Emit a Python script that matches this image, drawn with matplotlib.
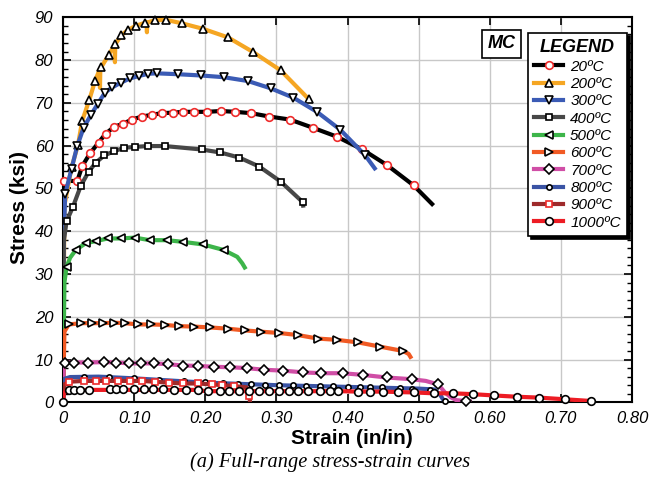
import matplotlib
matplotlib.use('Agg')
import matplotlib.pyplot as plt
from matplotlib.lines import Line2D
from matplotlib.ticker import MultipleLocator

plt.rcParams['font.family'] = ['Liberation Sans', 'DejaVu Sans']

# ---------------- data (strain in/in, stress ksi) ----------------
labels = ['20ºC', '200ºC', '300ºC', '400ºC', '500ºC', '600ºC', '700ºC', '800ºC', '900ºC', '1000ºC']
x_ticks = [0, 0.1, 0.2, 0.3, 0.4, 0.5, 0.6, 0.7, 0.8]
x_tick_labels = ['0', '0.10', '0.20', '0.30', '0.40', '0.50', '0.60', '0.70', '0.80']
y_ticks = [0, 10, 20, 30, 40, 50, 60, 70, 80, 90]

# 20 C
line_x_20 = [0, 0.001, 0.002, 0.02, 0.027, 0.038, 0.05, 0.06, 0.072, 0.084, 0.097, 0.111, 0.125, 0.139, 0.154, 0.169,
             0.184, 0.203, 0.222, 0.242, 0.264, 0.29, 0.319, 0.351, 0.385, 0.421, 0.456, 0.493, 0.521]
line_y_20 = [0, 48, 51.8, 51.7, 55.2, 58.2, 60.7, 62.8, 64.4, 65.1, 66.1, 66.8, 67.2, 67.6, 67.7, 67.9,
             67.9, 67.9, 68.1, 67.9, 67.6, 66.8, 66.1, 64.2, 62.1, 59.1, 55.4, 50.7, 46.0]
mk_x_20 = [0.002, 0.02, 0.027, 0.038, 0.05, 0.06, 0.072, 0.084, 0.097, 0.111, 0.125, 0.139, 0.154, 0.169,
           0.184, 0.203, 0.222, 0.242, 0.264, 0.29, 0.319, 0.351, 0.385, 0.421, 0.456, 0.493]
mk_y_20 = [51.8, 51.7, 55.2, 58.2, 60.7, 62.8, 64.4, 65.1, 66.1, 66.8, 67.2, 67.6, 67.7, 67.9,
           67.9, 67.9, 68.1, 67.9, 67.6, 66.8, 66.1, 64.2, 62.1, 59.1, 55.4, 50.7]

# 200 C
line_x_200 = [0, 0.002, 0.012, 0.021, 0.027, 0.037, 0.045, 0.0515, 0.052, 0.0525, 0.054, 0.064, 0.0725, 0.073,
              0.0735, 0.082, 0.091, 0.102, 0.115, 0.1175, 0.118, 0.1185, 0.129, 0.145, 0.167, 0.197, 0.232,
              0.267, 0.306, 0.346, 0.348]
line_y_200 = [0, 46, 54.9, 60.1, 65.8, 70.7, 75.1, 77.8, 73.5, 78.0, 78.4, 81.1, 83.6, 79.5,
              83.7, 85.8, 87.0, 88.0, 88.7, 88.8, 86.5, 88.8, 89.3, 89.4, 88.6, 87.3, 85.3,
              81.9, 77.6, 70.8, 70.3]
mk_x_200 = [0.012, 0.021, 0.027, 0.037, 0.045, 0.054, 0.064, 0.073, 0.082, 0.091, 0.102, 0.115, 0.129, 0.145,
            0.167, 0.197, 0.232, 0.267, 0.306, 0.346]
mk_y_200 = [54.9, 60.1, 65.8, 70.7, 75.1, 78.4, 81.1, 83.8, 85.8, 87.0, 88.0, 88.7, 89.3, 89.4,
            88.6, 87.3, 85.3, 81.9, 77.6, 70.8]

# 300 C
line_x_300 = [0, 0.001, 0.003, 0.012, 0.02, 0.029, 0.039, 0.049, 0.059, 0.069, 0.081, 0.094, 0.107, 0.12, 0.132,
              0.161, 0.194, 0.226, 0.26, 0.292, 0.324, 0.357, 0.39, 0.425, 0.44]
line_y_300 = [0, 37, 48.6, 54.6, 59.9, 64.2, 67.1, 69.8, 72.4, 73.6, 74.7, 75.7, 76.3, 76.8, 76.9,
              76.7, 76.4, 76.0, 75.1, 73.4, 71.2, 67.9, 63.7, 57.7, 54.3]
mk_x_300 = [0.003, 0.012, 0.02, 0.029, 0.039, 0.049, 0.059, 0.069, 0.081, 0.094, 0.107, 0.12, 0.132,
            0.161, 0.194, 0.226, 0.26, 0.292, 0.324, 0.357, 0.39, 0.425]
mk_y_300 = [48.6, 54.6, 59.9, 64.2, 67.1, 69.8, 72.4, 73.6, 74.7, 75.7, 76.3, 76.8, 76.9,
            76.7, 76.4, 76.0, 75.1, 73.4, 71.2, 67.9, 63.7, 57.7]

# 400 C
line_x_400 = [0, 0.001, 0.005, 0.014, 0.025, 0.036, 0.046, 0.058, 0.072, 0.086, 0.101, 0.119, 0.143, 0.195,
              0.221, 0.248, 0.276, 0.306, 0.337, 0.338]
line_y_400 = [0, 37.5, 42.3, 45.7, 50.6, 53.9, 56.0, 57.7, 58.7, 59.5, 59.7, 59.9, 59.9, 59.1,
              58.4, 57.2, 55.1, 51.6, 46.8, 45.5]
mk_x_400 = [0.005, 0.014, 0.025, 0.036, 0.046, 0.058, 0.072, 0.086, 0.101, 0.119, 0.143, 0.195,
            0.221, 0.248, 0.276, 0.306, 0.337]
mk_y_400 = [42.3, 45.7, 50.6, 53.9, 56.0, 57.7, 58.7, 59.5, 59.7, 59.9, 59.9, 59.1,
            58.4, 57.2, 55.1, 51.6, 46.8]

# 500 C
line_x_500 = [0, 0.002, 0.005, 0.01, 0.018, 0.032, 0.047, 0.063, 0.081, 0.101, 0.122, 0.146, 0.169, 0.197,
              0.226, 0.245, 0.252, 0.257]
line_y_500 = [0, 28, 31.6, 33.8, 35.6, 37.2, 37.7, 38.3, 38.3, 38.5, 37.9, 37.9, 37.5, 36.9,
              35.6, 34.0, 32.5, 31.1]
mk_x_500 = [0.005, 0.018, 0.032, 0.047, 0.063, 0.081, 0.101, 0.122, 0.146, 0.169, 0.197, 0.226]
mk_y_500 = [31.6, 35.6, 37.2, 37.7, 38.3, 38.3, 38.5, 37.9, 37.9, 37.5, 36.9, 35.6]

# 600 C
line_x_600 = [0, 0.002, 0.008, 0.026, 0.041, 0.056, 0.072, 0.087, 0.106, 0.124, 0.143, 0.163, 0.184, 0.207,
              0.232, 0.256, 0.279, 0.304, 0.331, 0.358, 0.385, 0.415, 0.446, 0.478, 0.486, 0.49]
line_y_600 = [0, 16.5, 18.2, 18.5, 18.5, 18.5, 18.6, 18.5, 18.2, 18.2, 18.1, 17.8, 17.7, 17.5,
              17.2, 16.8, 16.5, 16.2, 15.7, 14.9, 14.6, 14.0, 13.0, 12.0, 11.3, 10.2]
mk_x_600 = [0.008, 0.026, 0.041, 0.056, 0.072, 0.087, 0.106, 0.124, 0.143, 0.163, 0.184, 0.207,
            0.232, 0.256, 0.279, 0.304, 0.331, 0.358, 0.385, 0.415, 0.446, 0.478]
mk_y_600 = [18.2, 18.5, 18.5, 18.5, 18.6, 18.5, 18.2, 18.2, 18.1, 17.8, 17.7, 17.5,
            17.2, 16.8, 16.5, 16.2, 15.7, 14.9, 14.6, 14.0, 13.0, 12.0]

# 700 C
line_x_700 = [0, 0.001, 0.003, 0.015, 0.035, 0.057, 0.075, 0.093, 0.11, 0.128, 0.148, 0.169, 0.19, 0.212,
              0.235, 0.258, 0.283, 0.31, 0.337, 0.363, 0.393, 0.422, 0.455, 0.49, 0.51, 0.527, 0.532,
              0.537, 0.545, 0.553, 0.567, 0.575]
line_y_700 = [0, 8.5, 9.3, 9.3, 9.3, 9.4, 9.3, 9.1, 9.1, 9.1, 8.9, 8.6, 8.5, 8.3,
              8.2, 8.0, 7.6, 7.4, 7.0, 6.8, 6.8, 6.4, 5.8, 5.4, 5.0, 4.2, 3.3,
              2.3, 1.2, 0.5, 0.3, 0.2]
mk_x_700 = [0.003, 0.015, 0.035, 0.057, 0.075, 0.093, 0.11, 0.128, 0.148, 0.169, 0.19, 0.212,
            0.235, 0.258, 0.283, 0.31, 0.337, 0.363, 0.393, 0.422, 0.455, 0.49, 0.527, 0.567]
mk_y_700 = [9.3, 9.3, 9.3, 9.4, 9.3, 9.1, 9.1, 9.1, 8.9, 8.6, 8.5, 8.3,
            8.2, 8.0, 7.6, 7.4, 7.0, 6.8, 6.8, 6.4, 5.8, 5.4, 4.2, 0.3]

# 800 C
line_x_800 = [0, 0.002, 0.01, 0.05, 0.1, 0.2, 0.3, 0.4, 0.5, 0.522, 0.53, 0.535, 0.539]
line_y_800 = [0, 5.5, 5.9, 6.0, 5.6, 4.6, 4.0, 3.6, 3.2, 3.0, 1.8, 0.5, 0.1]
mk_x_800 = [0.03, 0.065, 0.1, 0.135, 0.17, 0.2, 0.225, 0.246, 0.265, 0.284, 0.304, 0.323, 0.342, 0.362,
            0.38, 0.4, 0.417, 0.432, 0.448, 0.474, 0.49, 0.516, 0.537]
mk_y_800 = [6.0, 5.8, 5.6, 5.3, 5.0, 4.7, 4.5, 4.3, 4.3, 4.0, 4.0, 4.0, 3.9, 3.8,
            3.8, 3.6, 3.5, 3.5, 3.5, 3.3, 3.1, 2.9, 0.4]

# 900 C
line_x_900 = [0, 0.002, 0.008, 0.029, 0.046, 0.061, 0.077, 0.094, 0.111, 0.129, 0.149, 0.169, 0.19, 0.209,
              0.224, 0.24, 0.258, 0.261, 0.262, 0.263]
line_y_900 = [0, 4.2, 4.8, 5.0, 5.0, 5.0, 5.0, 5.0, 5.0, 4.8, 4.6, 4.4, 4.4, 4.2,
              4.0, 3.8, 3.5, 2.5, 1.5, 0.0]
mk_x_900 = [0.008, 0.029, 0.046, 0.061, 0.077, 0.094, 0.111, 0.129, 0.149, 0.169, 0.19, 0.209,
            0.224, 0.24, 0.262]
mk_y_900 = [4.8, 5.0, 5.0, 5.0, 5.0, 5.0, 5.0, 4.8, 4.6, 4.4, 4.4, 4.2,
            4.0, 3.8, 1.5]

# 1000 C
line_x_1000 = [0, 0.001, 0.005, 0.04, 0.19, 0.2, 0.39, 0.415, 0.45, 0.471, 0.494, 0.521, 0.548, 0.576,
               0.606, 0.638, 0.669, 0.706, 0.743, 0.746]
line_y_1000 = [0, 2.0, 2.8, 2.9, 2.9, 2.6, 2.6, 2.5, 2.5, 2.4, 2.3, 2.1, 2.1, 1.9,
               1.6, 1.3, 1.1, 0.7, 0.3, 0.3]
mk_x_1000 = [0.0, 0.008, 0.016, 0.024, 0.036, 0.066, 0.075, 0.085, 0.1, 0.114, 0.127, 0.141, 0.156, 0.173,
             0.19, 0.204, 0.221, 0.234, 0.248, 0.262, 0.276, 0.29, 0.304, 0.318, 0.331, 0.345, 0.362,
             0.376, 0.387, 0.415, 0.432, 0.45, 0.471, 0.494, 0.521, 0.548, 0.576, 0.606, 0.638, 0.669,
             0.706, 0.743]
mk_y_1000 = [0.0, 2.9, 2.9, 2.9, 2.9, 3.0, 3.0, 3.0, 3.0, 3.0, 3.0, 3.0, 2.9, 2.9,
             2.9, 2.6, 2.6, 2.6, 2.6, 2.6, 2.6, 2.6, 2.6, 2.6, 2.6, 2.6, 2.6,
             2.6, 2.6, 2.5, 2.5, 2.5, 2.4, 2.3, 2.1, 2.1, 1.9, 1.6, 1.3, 1.1,
             0.7, 0.3]

# ---------------- styles ----------------
series = [
    (line_x_20, line_y_20, mk_x_20, mk_y_20, 'black', 'o', '#ee2b2b', 5.5),
    (line_x_200, line_y_200, mk_x_200, mk_y_200, '#f5a623', '^', 'black', 5.5),
    (line_x_300, line_y_300, mk_x_300, mk_y_300, '#3b5bb5', 'v', 'black', 5.5),
    (line_x_400, line_y_400, mk_x_400, mk_y_400, '#474747', 's', 'black', 5.0),
    (line_x_500, line_y_500, mk_x_500, mk_y_500, '#3db54a', '<', 'black', 5.5),
    (line_x_600, line_y_600, mk_x_600, mk_y_600, '#f15a24', '>', 'black', 5.5),
    (line_x_700, line_y_700, mk_x_700, mk_y_700, '#d04ea6', 'D', 'black', 4.8),
    (line_x_800, line_y_800, mk_x_800, mk_y_800, '#3a53a4', 'o', 'black', 3.8),
    (line_x_900, line_y_900, mk_x_900, mk_y_900, '#9e2a2b', 's', '#ee2b2b', 5.0),
    (line_x_1000, line_y_1000, mk_x_1000, mk_y_1000, '#ed1c24', 'o', 'black', 5.5),
]

fig = plt.figure(figsize=(6.55, 4.82), dpi=100)
ax = fig.add_axes([63 / 655, 1 - 402.3 / 482, (632 - 63) / 655, (402.3 - 17.3) / 482])

handles = []
for i, (lx, ly, mx, my, col, mk, mec, ms) in enumerate(series):
    z = 3 + i * 0.1
    ax.plot(lx, ly, color=col, lw=3.0, solid_capstyle='butt', zorder=z)
    ax.plot(mx, my, ls='none', marker=mk, ms=ms, mfc='white', mec=mec, mew=1.2, zorder=z + 0.05,
            clip_on=False)
    handles.append(Line2D([0], [0], color=col, lw=3.0, marker=mk, ms=ms, mfc='white', mec=mec, mew=1.2))

ax.set_xlim(0, 0.8)
ax.set_ylim(0, 90)
ax.set_xticks(x_ticks, x_tick_labels, fontstyle='italic', fontsize=12)
ax.set_yticks(y_ticks, [str(v) for v in y_ticks], fontstyle='italic', fontsize=12)
ax.yaxis.set_minor_locator(MultipleLocator(2))
ax.tick_params(which='both', direction='in', top=True, right=True)
ax.tick_params(which='major', length=6, width=1.2, pad=6)
ax.tick_params(axis='y', which='major', pad=7)
ax.tick_params(which='minor', length=3.5, width=1.0)
ax.grid(True, which='major', color='#c8c8c8', lw=1.0)
ax.set_axisbelow(True)
for sp in ax.spines.values():
    sp.set_linewidth(1.5)

fig.text(352 / 655, 1 - 439 / 482, 'Strain (in/in)', ha='center', va='center', fontsize=15, fontweight='bold')
fig.text(20 / 655, 1 - 208 / 482, 'Stress (ksi)', ha='center', va='center', fontsize=15, fontweight='bold',
         rotation=90)
fig.text(330 / 655, 1 - 462 / 482, '(a) Full-range stress-strain curves', ha='center', va='center',
         fontsize=14.7, style='italic', family='Liberation Serif')

leg = ax.legend(handles, labels, loc='upper right', bbox_to_anchor=(0.991, 0.959),
                title='LEGEND', title_fontproperties={'weight': 'bold', 'style': 'italic', 'size': 13},
                prop={'style': 'italic', 'size': 11}, frameon=True, fancybox=False, edgecolor='black',
                framealpha=1, shadow={'color': 'black', 'alpha': 1.0}, handlelength=1.9,
                handletextpad=0.45, labelspacing=0.22, borderaxespad=0, borderpad=0.4)
leg.get_frame().set_linewidth(1.2)
leg.set_zorder(10)

ax.text(0.771, 0.931, 'MC', transform=ax.transAxes, ha='center', va='center', fontsize=13,
        fontweight='bold', style='italic', zorder=10,
        bbox=dict(boxstyle='square,pad=0.3', fc='white', ec='black', lw=1.2))

fig.savefig('out.png', dpi=100)
